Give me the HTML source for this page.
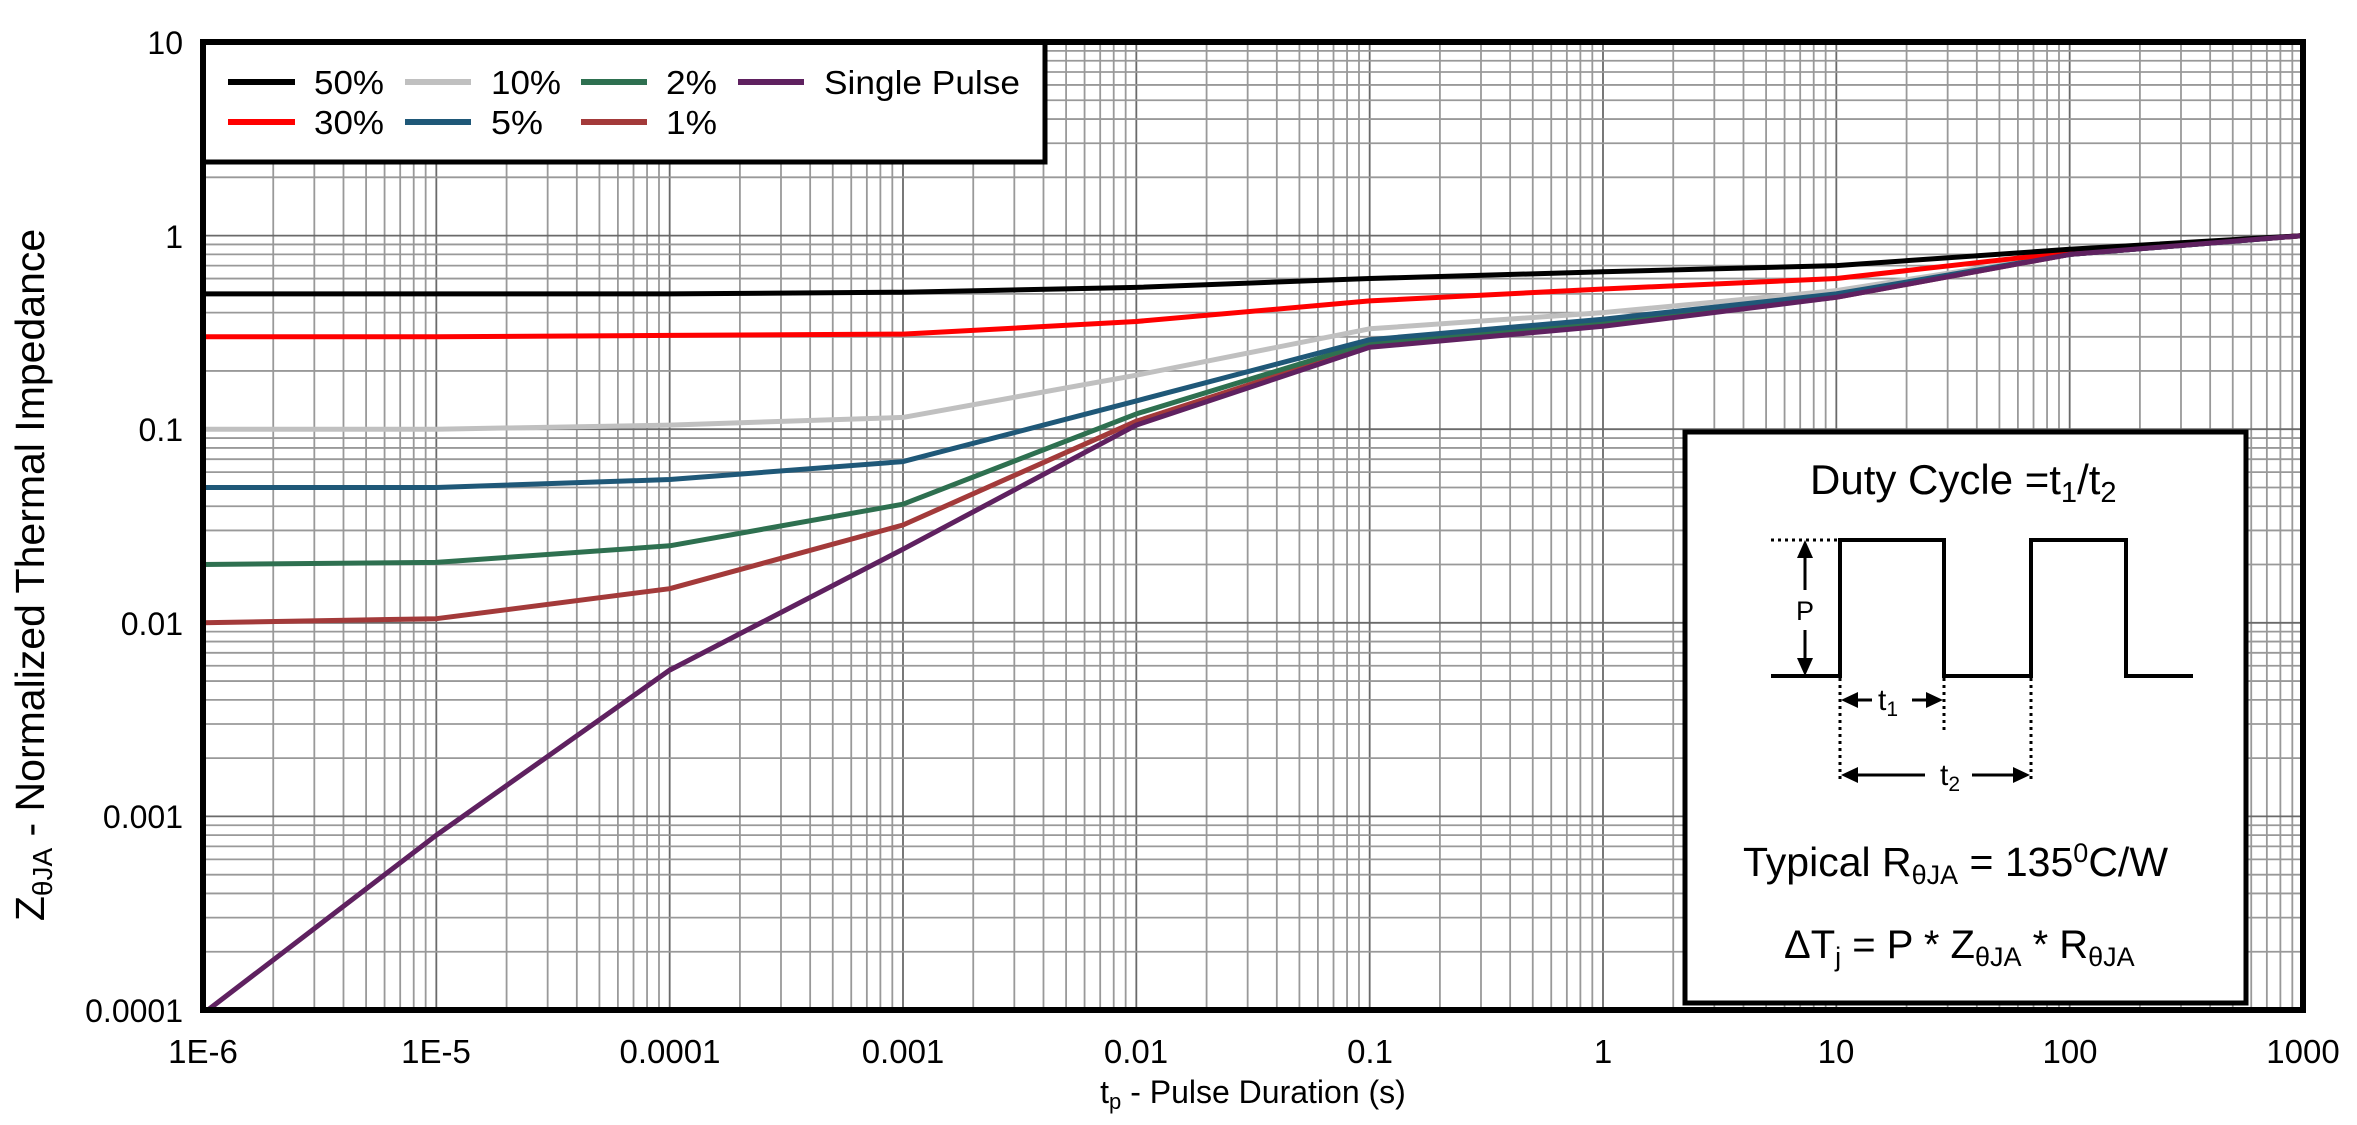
<!DOCTYPE html>
<html><head><meta charset="utf-8"><style>
html,body{margin:0;padding:0;background:#fff}
svg{display:block}
text{font-family:"Liberation Sans",Arial,sans-serif;fill:#000}
</style></head><body>
<svg id="s" width="2357" height="1125" viewBox="0 0 2357 1125" xmlns="http://www.w3.org/2000/svg">
<rect width="2357" height="1125" fill="#fff"/>
<g id="grid"></g>
<g id="curves"></g>
<!-- legend -->
<rect x="203" y="42" width="842" height="120" fill="#fff" stroke="#000" stroke-width="5"/>
<g stroke-width="6">
<line x1="228" y1="82" x2="295" y2="82" stroke="#000"/>
<line x1="228" y1="122" x2="295" y2="122" stroke="#ff0000"/>
<line x1="405" y1="82" x2="471" y2="82" stroke="#c0c0c0"/>
<line x1="405" y1="122" x2="471" y2="122" stroke="#1f5878"/>
<line x1="581" y1="82" x2="647" y2="82" stroke="#2e7050"/>
<line x1="581" y1="122" x2="647" y2="122" stroke="#a33a3a"/>
<line x1="738" y1="82" x2="804" y2="82" stroke="#5f2160"/>
</g>
<g font-size="33">
<text x="314" y="94" textLength="70" lengthAdjust="spacingAndGlyphs">50%</text>
<text x="314" y="134" textLength="70" lengthAdjust="spacingAndGlyphs">30%</text>
<text x="491" y="94" textLength="70" lengthAdjust="spacingAndGlyphs">10%</text>
<text x="491" y="134" textLength="52" lengthAdjust="spacingAndGlyphs">5%</text>
<text x="666" y="94" textLength="51" lengthAdjust="spacingAndGlyphs">2%</text>
<text x="666" y="134" textLength="51" lengthAdjust="spacingAndGlyphs">1%</text>
<text x="824" y="94" textLength="196" lengthAdjust="spacingAndGlyphs">Single Pulse</text>
</g>
<!-- inset -->
<rect x="1685" y="432" width="561" height="571" fill="#fff" stroke="#000" stroke-width="5"/>
<text x="1810" y="494" font-size="42">Duty Cycle =t<tspan font-size="29" dy="8">1</tspan><tspan dy="-8">/t</tspan><tspan font-size="29" dy="8">2</tspan></text>
<polyline points="1771,676 1840,676 1840,540 1944,540 1944,676 2031,676 2031,540 2126,540 2126,676 2193,676" fill="none" stroke="#000" stroke-width="4"/>
<g stroke="#000" stroke-width="3" stroke-dasharray="3,4" fill="none">
<line x1="1771" y1="540" x2="1838" y2="540"/>
<line x1="1840" y1="678" x2="1840" y2="780"/>
<line x1="1944" y1="678" x2="1944" y2="733"/>
<line x1="2031" y1="678" x2="2031" y2="780"/>
</g>
<g stroke="#000" stroke-width="3">
<line x1="1805" y1="550" x2="1805" y2="590"/>
<line x1="1805" y1="630" x2="1805" y2="666"/>
<line x1="1850" y1="700" x2="1872" y2="700"/>
<line x1="1912" y1="700" x2="1934" y2="700"/>
<line x1="1850" y1="775" x2="1925" y2="775"/>
<line x1="1972" y1="775" x2="2021" y2="775"/>
</g>
<g fill="#000">
<polygon points="1805,540 1797,558 1813,558"/>
<polygon points="1805,676 1797,658 1813,658"/>
<polygon points="1841,700 1858,692 1858,708"/>
<polygon points="1943,700 1926,692 1926,708"/>
<polygon points="1841,775 1858,767 1858,783"/>
<polygon points="2030,775 2013,767 2013,783"/>
</g>
<text x="1805" y="620" font-size="27" text-anchor="middle">P</text>
<text x="1888" y="710" font-size="30" text-anchor="middle">t<tspan font-size="21" dy="6">1</tspan></text>
<text x="1950" y="785" font-size="30" text-anchor="middle">t<tspan font-size="21" dy="6">2</tspan></text>
<text x="1743" y="876" font-size="41">Typical R<tspan font-size="27" dy="8">θJA</tspan><tspan dy="-8"> = 135</tspan><tspan font-size="27" dy="-14">0</tspan><tspan dy="14">C/W</tspan></text>
<text x="1784" y="958" font-size="40">ΔT<tspan font-size="27" dy="8">j</tspan><tspan dy="-8"> = P * Z</tspan><tspan font-size="27" dy="8">θJA</tspan><tspan dy="-8"> * R</tspan><tspan font-size="27" dy="8">θJA</tspan></text>
<!-- frame -->
<rect x="203" y="42" width="2100" height="968" fill="none" stroke="#000" stroke-width="6"/>
<!-- y ticks -->
<g font-size="32" text-anchor="end">
<text x="183" y="54">10</text>
<text x="183" y="248">1</text>
<text x="183" y="441">0.1</text>
<text x="183" y="635">0.01</text>
<text x="183" y="828">0.001</text>
<text x="183" y="1022">0.0001</text>
</g>
<g font-size="33" text-anchor="middle">
<text x="203" y="1063">1E-6</text>
<text x="436" y="1063">1E-5</text>
<text x="670" y="1063">0.0001</text>
<text x="903" y="1063">0.001</text>
<text x="1136" y="1063">0.01</text>
<text x="1370" y="1063">0.1</text>
<text x="1603" y="1063">1</text>
<text x="1836" y="1063">10</text>
<text x="2070" y="1063">100</text>
<text x="2303" y="1063">1000</text>
</g>
<text x="1253" y="1103" font-size="32" text-anchor="middle">t<tspan font-size="22" dy="6">p</tspan><tspan dy="-6"> - Pulse Duration (s)</tspan></text>
<text transform="translate(44,575) rotate(-90)" font-size="41" text-anchor="middle">Z<tspan font-size="28" dy="8">θJA</tspan><tspan dy="-8"> - Normalized Thermal Impedance</tspan></text>
</svg>
<script>
var L=203,R=2303,T=42,B=1010,dx=(R-L)/9,dy=(B-T)/5;
function X(t){return L+(Math.log10(t)+6)*dx}
function Y(z){return T+(1-Math.log10(z))*dy}
var g=document.getElementById("grid"),h="";
for(var d=-6;d<3;d++)for(var m=1;m<10;m++){var x=X(m*Math.pow(10,d));if(x>L+2)h+='<line x1="'+x+'" y1="'+T+'" x2="'+x+'" y2="'+B+'" stroke="'+(m==1?'#6a6a6a':'#999')+'" stroke-width="1.8"/>';}
for(var d=-4;d<1;d++)for(var m=1;m<10;m++){var y=Y(m*Math.pow(10,d));if(y>T+2&&y<B-2)h+='<line x1="'+L+'" y1="'+y+'" x2="'+R+'" y2="'+y+'" stroke="'+(m==1?'#6a6a6a':'#999')+'" stroke-width="1.8"/>';}
g.innerHTML=h;
var ts=[1e-6,1e-5,1e-4,1e-3,1e-2,0.1,1,10,100,1000];
var S=[
["#c0c0c0",[0.1,0.1,0.105,0.115,0.19,0.33,0.4,0.52,0.8,1]],
["#a33a3a",[0.01,0.0105,0.015,0.032,0.11,0.27,0.35,0.48,0.8,1]],
["#2e7050",[0.02,0.0205,0.025,0.041,0.12,0.28,0.36,0.49,0.8,1]],
["#1f5878",[0.05,0.05,0.055,0.068,0.14,0.29,0.37,0.5,0.8,1]],
["#ff0000",[0.3,0.3,0.305,0.31,0.36,0.46,0.53,0.6,0.82,1]],
["#000",[0.5,0.5,0.5,0.51,0.54,0.6,0.65,0.7,0.85,1]],
["#5f2160",[0.0001,0.0008,0.0057,0.024,0.105,0.265,0.34,0.48,0.8,1]]];
var c="";
S.forEach(function(s){var p=[];for(var i=0;i<ts.length;i++){var t=ts[i];if(i==0&&s[1][0]==0.0001)t=1.05e-6;p.push(X(t).toFixed(1)+","+Y(s[1][i]).toFixed(1));}
c+='<polyline points="'+p.join(" ")+'" fill="none" stroke="'+s[0]+'" stroke-width="5" stroke-linejoin="round"/>';});
document.getElementById("curves").innerHTML=c;
</script>
</body></html>
